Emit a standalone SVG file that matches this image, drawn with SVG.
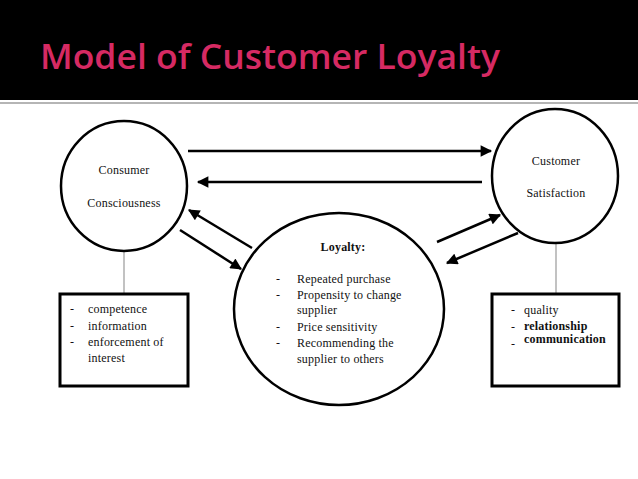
<svg xmlns="http://www.w3.org/2000/svg" width="638" height="479" viewBox="0 0 638 479">
<defs>
<style>
.node{fill:#fff;stroke:#000;stroke-width:2.5}
.box{fill:#fff;stroke:#000;stroke-width:3}
.t{font-family:"Liberation Serif","Times New Roman",serif;font-size:12px;fill:#111;letter-spacing:0.2px}
.b{font-weight:bold}
.conn{stroke:#000;stroke-width:2.5;fill:none;marker-end:url(#ah)}
.tie{stroke:#999;stroke-width:1.2}
</style>
<marker id="ah" viewBox="0 0 10 10" refX="9" refY="5" markerWidth="5.2" markerHeight="4.6" markerUnits="strokeWidth" orient="auto">
<path d="M0,0 L10,5 L0,10 z" fill="#000"/>
</marker>
</defs>
<rect x="0" y="0" width="638" height="479" fill="#fff"/>
<rect x="0" y="0" width="638" height="100" fill="#000"/>
<line x1="0" y1="103" x2="638" y2="103" stroke="#b5b5b5" stroke-width="2"/>
<text x="40" y="69" font-family="'Open Sans','Noto Sans',sans-serif" font-size="34" font-weight="600" fill="#d62a63" textLength="460" lengthAdjust="spacingAndGlyphs">Model of Customer Loyalty</text>

<g id="connectors">
<line class="tie" x1="124" y1="252" x2="124" y2="293"/>
<line class="tie" x1="556" y1="243" x2="556" y2="293"/>
<line class="conn" x1="188" y1="151" x2="491" y2="151"/>
<line class="conn" x1="482" y1="182" x2="198" y2="182"/>
<line class="conn" x1="252" y1="248" x2="189" y2="210"/>
<line class="conn" x1="180" y1="230" x2="241" y2="269"/>
<line class="conn" x1="437" y1="242" x2="500" y2="215"/>
<line class="conn" x1="518" y1="233" x2="447" y2="263"/>
</g>

<g id="consumer-consciousness">
<ellipse class="node" cx="124" cy="186" rx="63" ry="65"/>
<text class="t" x="124" y="174" text-anchor="middle">Consumer</text>
<text class="t" x="124" y="207" text-anchor="middle">Consciousness</text>
</g>

<g id="customer-satisfaction">
<ellipse class="node" cx="555" cy="176" rx="63" ry="67"/>
<text class="t" x="556" y="165" text-anchor="middle">Customer</text>
<text class="t" x="556" y="197" text-anchor="middle">Satisfaction</text>
</g>

<g id="loyalty">
<ellipse class="node" cx="339" cy="309" rx="105" ry="96"/>
<text class="t b" x="343" y="251" text-anchor="middle">Loyalty:</text>
<text class="t" x="276" y="283">-</text><text class="t" x="297" y="283">Repeated purchase</text>
<text class="t" x="276" y="299">-</text><text class="t" x="297" y="299">Propensity to change</text>
<text class="t" x="297" y="314">supplier</text>
<text class="t" x="276" y="331">-</text><text class="t" x="297" y="331">Price sensitivity</text>
<text class="t" x="276" y="347">-</text><text class="t" x="297" y="347">Recommending the</text>
<text class="t" x="297" y="363">supplier to others</text>
</g>

<g id="consciousness-factors">
<rect class="box" x="60" y="294" width="128" height="92"/>
<text class="t" x="70" y="313">-</text><text class="t" x="88" y="313">competence</text>
<text class="t" x="70" y="330">-</text><text class="t" x="88" y="330">information</text>
<text class="t" x="70" y="346">-</text><text class="t" x="88" y="346">enforcement of</text>
<text class="t" x="88" y="362">interest</text>
</g>

<g id="satisfaction-factors">
<rect class="box" x="492" y="294" width="127" height="92"/>
<text class="t" x="511" y="314">-</text><text class="t" x="524" y="314">quality</text>
<text class="t" x="511" y="331">-</text><text class="t b" x="524" y="330">relationship</text>
<text class="t" x="511" y="348">-</text><text class="t b" x="524" y="343">communication</text>
</g>
</svg>
